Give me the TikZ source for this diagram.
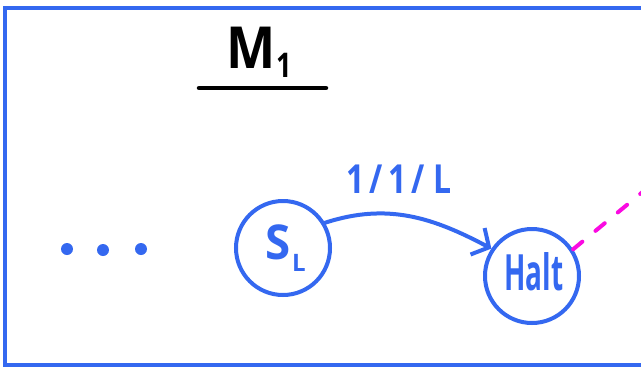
\documentclass[tikz,border=0pt]{standalone}
\usepackage{fontspec}
\setmainfont{Open Sans}
\usetikzlibrary{arrows.meta}
\definecolor{pen}{RGB}{52,104,240}
\definecolor{mag}{RGB}{250,10,225}
\begin{document}
\begin{tikzpicture}[x=1pt,y=-1pt,
  state/.style={circle,draw=pen,line width=4pt,minimum size=94pt,inner sep=0pt},
  dotmark/.style={circle,fill=pen,inner sep=0pt,minimum size=12pt},
  pentext/.style={text=pen,inner sep=0pt},
  lbl/.style={pentext,font=\fontsize{40}{42}\selectfont\bfseries,xscale=0.8}]
\useasboundingbox (0,0) rectangle (641,368);
\fill[white] (0,0) rectangle (641,368);
% frame (open on the right)
\draw[pen,line width=4pt] (645,8) -- (5,8) -- (5,365) -- (645,365);
% title
\node[font=\fontsize{58}{60}\selectfont\bfseries,inner sep=0pt,xscale=0.9] (titleM) at (251,48) {M};
\node[font=\fontsize{34}{36}\selectfont\bfseries,inner sep=0pt,xscale=0.8] (title1) at (284,65) {1};
\coordinate (ul1) at (199,88);
\coordinate (ul2) at (326,88);
\draw[line width=4.5pt,line cap=round] (ul1) -- (ul2);
% dots
\node[dotmark] (d1) at (67,249) {};
\node[dotmark] (d2) at (103,250) {};
\node[dotmark] (d3) at (141,249) {};
% states
\node[state] (sl) at (283,248) {};
\node[pentext,font=\fontsize{48}{50}\selectfont\bfseries,xscale=0.95] (slS) at (278,242) {S};
\node[pentext,font=\fontsize{24}{26}\selectfont\bfseries] (slL) at (299,263) {L};
\node[state] (halt) at (532,276) {};
\node[pentext,font=\fontsize{50}{52}\selectfont\bfseries,xscale=0.56] (haltt) at (534,272) {Halt};
% transition
\draw[pen,line width=4pt,line cap=round,-{Straight Barb[length=13pt,width=30pt,line width=4pt]}]
  (sl.31) to[out=18,in=152] (halt.146);
\node[lbl] (t) at (399,179) {1\,/\,1\,/\;L};
% magenta dashed
\coordinate (off) at (645,190);
\draw[mag,line width=4pt,line cap=round,dash pattern=on 12pt off 17pt] (halt.33) -- (off);
\end{tikzpicture}
\end{document}
